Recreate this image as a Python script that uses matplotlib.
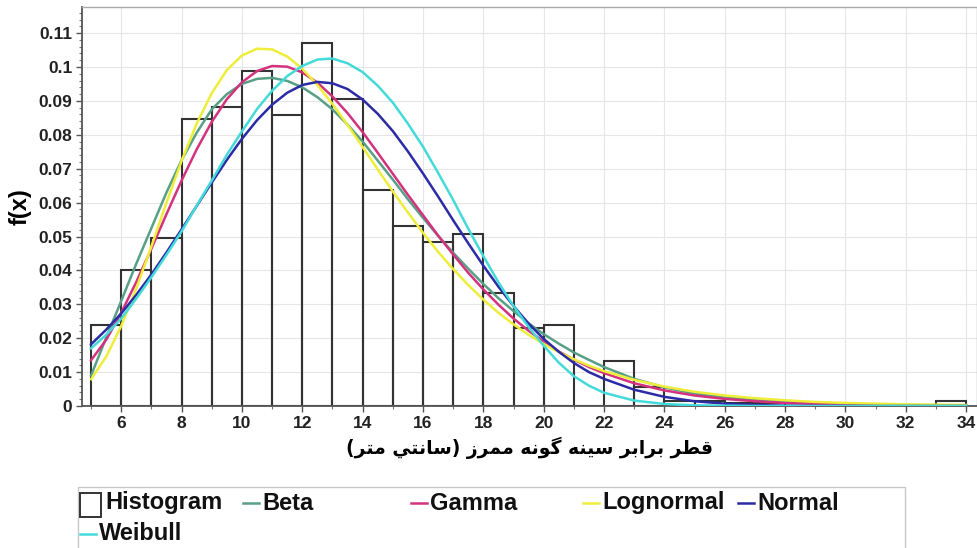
import matplotlib
matplotlib.use("Agg")
import matplotlib.pyplot as plt
from matplotlib import font_manager
from matplotlib.ticker import MultipleLocator, FuncFormatter
from matplotlib.patches import Rectangle
from matplotlib.lines import Line2D

# ---------------- data ----------------
bin_left = [5, 6, 7, 8, 9, 10, 11, 12, 13, 14, 15, 16, 17, 18, 19,
            20, 21, 22, 23, 24, 25, 26, 27, 28, 29, 30, 31, 32, 33]
hist_density = [0.0239, 0.0401, 0.0496, 0.0847, 0.0883, 0.0988, 0.0858, 0.1070,
                0.0905, 0.0637, 0.0531, 0.0485, 0.0506, 0.0332, 0.0229, 0.0239,
                0.0, 0.0133, 0.0055, 0.0015, 0.0015, 0.0010, 0.0010, 0.0, 0.0,
                0.0, 0.0, 0.0, 0.0015]

curve_x = [5, 5.5, 6, 6.5, 7, 7.5, 8, 8.5, 9, 9.5, 10, 10.5, 11, 11.5, 12,
           12.5, 13, 13.5, 14, 14.5, 15, 15.5, 16, 16.5, 17, 17.5, 18, 18.5,
           19, 19.5, 20, 20.5, 21, 21.5, 22, 23, 24, 25, 26, 27, 28, 29, 30,
           31, 32, 33, 34]
beta_y = [0.0090, 0.0201, 0.0310, 0.0420, 0.0525, 0.0630, 0.0725, 0.0806,
          0.0875, 0.0920, 0.0950, 0.0965, 0.0968, 0.0959, 0.0940, 0.0911,
          0.0875, 0.0830, 0.0780, 0.0724, 0.0668, 0.0610, 0.0555, 0.0502,
          0.0452, 0.0405, 0.0360, 0.0318, 0.0280, 0.0244, 0.0212, 0.0184,
          0.0158, 0.0136, 0.0115, 0.0080, 0.0055, 0.0037, 0.0025, 0.0017,
          0.0012, 0.0008, 0.0006, 0.0004, 0.0003, 0.0002, 0.0001]
gamma_y = [0.0135, 0.0195, 0.0275, 0.0366, 0.0464, 0.0566, 0.0665, 0.0757,
           0.0838, 0.0905, 0.0955, 0.0988, 0.1003, 0.1001, 0.0984, 0.0954,
           0.0913, 0.0864, 0.0808, 0.0747, 0.0685, 0.0623, 0.0563, 0.0503,
           0.0447, 0.0393, 0.0344, 0.0299, 0.0258, 0.0222, 0.0190, 0.0161,
           0.0137, 0.0115, 0.0097, 0.0067, 0.0046, 0.0031, 0.0021, 0.0014,
           0.0009, 0.0006, 0.0004, 0.0002, 0.0001, 0.0001, 0.0001]
lognormal_y = [0.0079, 0.0145, 0.0236, 0.0347, 0.0471, 0.0600, 0.0723, 0.0833,
               0.0923, 0.0991, 0.1034, 0.1054, 0.1052, 0.1031, 0.0995, 0.0947,
               0.0891, 0.0829, 0.0764, 0.0698, 0.0633, 0.0571, 0.0511, 0.0455,
               0.0404, 0.0357, 0.0314, 0.0275, 0.0241, 0.0210, 0.0183, 0.0159,
               0.0138, 0.0119, 0.0103, 0.0077, 0.0057, 0.0042, 0.0031, 0.0023,
               0.0017, 0.0012, 0.0009, 0.0007, 0.0005, 0.0004, 0.0003]
normal_y = [0.0182, 0.0225, 0.0273, 0.0328, 0.0388, 0.0453, 0.0521, 0.0590,
            0.0659, 0.0726, 0.0788, 0.0843, 0.0889, 0.0924, 0.0947, 0.0956,
            0.0952, 0.0935, 0.0904, 0.0862, 0.0811, 0.0751, 0.0686, 0.0618,
            0.0548, 0.0480, 0.0414, 0.0352, 0.0295, 0.0243, 0.0198, 0.0160,
            0.0127, 0.0100, 0.0080, 0.0048, 0.0027, 0.0014, 0.0007, 0.0003,
            0.0001, 0.0, 0.0, 0.0, 0.0, 0.0, 0.0]
weibull_y = [0.0170, 0.0210, 0.0258, 0.0317, 0.0380, 0.0446, 0.0515, 0.0591,
             0.0665, 0.0741, 0.0810, 0.0876, 0.0930, 0.0973, 0.1003, 0.1022,
             0.1025, 0.1011, 0.0985, 0.0945, 0.0895, 0.0833, 0.0765, 0.0688,
             0.0608, 0.0523, 0.0442, 0.0365, 0.0295, 0.0233, 0.0178, 0.0128,
             0.0088, 0.0060, 0.0039, 0.0016, 0.0006, 0.0002, 0.0001, 0.0,
             0.0, 0.0, 0.0, 0.0, 0.0, 0.0, 0.0]

series_names = ["Beta", "Gamma", "Lognormal", "Normal", "Weibull"]
series_colors = ["#58a085", "#d4327e", "#eeee3a", "#2b2ba6", "#44dada"]
x_label = "قطر برابر سینه گونه ممرز (سانتي متر)"
y_label = "f(x)"

# ------------- simple Arabic/Persian shaping for display -------------
FORMS = {
    "ا": ("\uFE8D", "\uFE8E", None, None),
    "ب": ("\uFE8F", "\uFE90", "\uFE91", "\uFE92"),
    "ت": ("\uFE95", "\uFE96", "\uFE97", "\uFE98"),
    "ر": ("\uFEAD", "\uFEAE", None, None),
    "ز": ("\uFEAF", "\uFEB0", None, None),
    "س": ("\uFEB1", "\uFEB2", "\uFEB3", "\uFEB4"),
    "ط": ("\uFEC1", "\uFEC2", "\uFEC3", "\uFEC4"),
    "ق": ("\uFED5", "\uFED6", "\uFED7", "\uFED8"),
    "م": ("\uFEE1", "\uFEE2", "\uFEE3", "\uFEE4"),
    "ن": ("\uFEE5", "\uFEE6", "\uFEE7", "\uFEE8"),
    "ه": ("\uFEE9", "\uFEEA", "\uFEEB", "\uFEEC"),
    "و": ("\uFEED", "\uFEEE", None, None),
    "ي": ("\uFEF1", "\uFEF2", "\uFEF3", "\uFEF4"),
    "ی": ("\uFBFC", "\uFBFD", "\uFBFE", "\uFBFF"),
    "گ": ("\uFB92", "\uFB93", "\uFB94", "\uFB95"),
}


def rtl(s):
    out = []
    n = len(s)
    for i, c in enumerate(s):
        if c not in FORMS:
            out.append(c)
            continue
        prev = s[i - 1] if i > 0 else ""
        nxt = s[i + 1] if i < n - 1 else ""
        p = prev in FORMS and FORMS[prev][2] is not None
        q = FORMS[c][2] is not None and nxt in FORMS
        iso, fin, ini, med = FORMS[c]
        if p and q:
            out.append(med)
        elif p:
            out.append(fin)
        elif q:
            out.append(ini)
        else:
            out.append(iso)
    vis = "".join(reversed(out))
    return vis.translate(str.maketrans("()", ")("))


def font_path(**kw):
    try:
        return font_manager.findfont(font_manager.FontProperties(**kw),
                                     fallback_to_default=False)
    except Exception:
        return ""


main_font = "Liberation Sans" if font_path(family="Liberation Sans") else "DejaVu Sans"
plt.rcParams["font.family"] = [main_font, "DejaVu Sans"]

# ---------------- figure ----------------
W, H = 978, 548
fig = plt.figure(figsize=(W / 100, H / 100), dpi=100)
ax = fig.add_axes([82 / W, 1 - 406 / H, (977 - 82) / W, (406 - 7) / H])

ax.bar(bin_left, hist_density, width=1.0, align="edge", fill=False,
       edgecolor="#333333", linewidth=1.5, zorder=2)

all_y = [beta_y, gamma_y, lognormal_y, normal_y, weibull_y]
for name, ys, col in zip(series_names, all_y, series_colors):
    ax.plot(curve_x, ys, color=col, linewidth=1.8, zorder=3,
            solid_joinstyle="round", label=name)

ax.set_xlim(4.70, 34.36)
ax.set_ylim(0, 0.1177)
ax.xaxis.set_major_locator(MultipleLocator(2))
ax.xaxis.set_minor_locator(MultipleLocator(1))
ax.yaxis.set_major_locator(MultipleLocator(0.01))
ax.yaxis.set_minor_locator(MultipleLocator(0.002))
ax.yaxis.set_major_formatter(FuncFormatter(lambda v, p: "%g" % round(v, 3)))
ax.xaxis.set_major_formatter(FuncFormatter(lambda v, p: "%d" % v if v >= 6 else ""))

ax.grid(True, which="major", color="#e6e6e6", linewidth=0.8, zorder=0)
ax.set_axisbelow(True)

for side in ["left", "bottom"]:
    ax.spines[side].set_color("#555555")
    ax.spines[side].set_linewidth(1.3)
for side in ["top", "right"]:
    ax.spines[side].set_color("#aaaaaa")
    ax.spines[side].set_linewidth(1.0)

ax.tick_params(axis="both", which="major", direction="out", length=4,
               width=1, color="#555555", pad=3)
ax.tick_params(axis="both", which="minor", direction="out", length=2,
               width=0.8, color="#777777")
for lab in ax.get_yticklabels():
    lab.set_fontweight("bold")
    lab.set_fontsize(12.5)
    lab.set_color("#222222")
for lab in ax.get_xticklabels():
    lab.set_fontweight("bold")
    lab.set_fontsize(12.5)
    lab.set_color("#222222")

ax.set_ylabel(y_label, fontsize=17, fontweight="bold", labelpad=5)
ax.set_xlabel(rtl(x_label), fontsize=13.5, fontweight="bold",
              family=["DejaVu Sans"], labelpad=4)

# ---------------- legend (below the plot) ----------------
lax = fig.add_axes([0, 0, 1, 1], facecolor="none")
lax.set_xlim(0, W)
lax.set_ylim(H, 0)
lax.axis("off")
lax.add_patch(Rectangle((78, 487), 905 - 78, 80, fill=False,
                        edgecolor="#c8c8c8", linewidth=1.0))
lax.add_patch(Rectangle((80, 493), 21, 24, fill=False,
                        edgecolor="#333333", linewidth=1.4))
lax.text(105, 503, "Histogram", fontsize=17, fontweight="bold",
         va="center", ha="left", color="#111111")
leg_pos = [(243, 503), (411, 503), (583, 503), (738, 503), (80, 534)]
for name, col, (lx, ly) in zip(series_names, series_colors, leg_pos):
    lax.add_line(Line2D([lx, lx + 16], [ly, ly], color=col, linewidth=1.8))
    lax.text(lx + 19, ly, name, fontsize=17, fontweight="bold",
             va="center", ha="left", color="#111111")

fig.savefig("out.png", dpi=100)
